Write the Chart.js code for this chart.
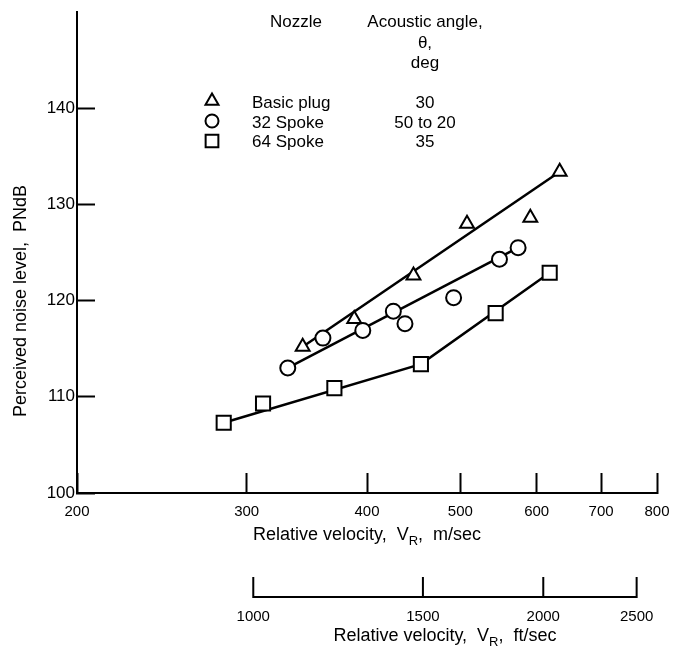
<!DOCTYPE html>
<html><head><meta charset="utf-8">
<script src="https://cdn.jsdelivr.net/npm/chart.js@4/dist/chart.umd.min.js"></script>
<style>html,body{margin:0;padding:0;background:#fff;}#wrap{width:673px;height:654px;}</style>
</head><body><div id="wrap"><canvas id="c" width="673" height="654"></canvas></div>
<script>
// ---- data ----
const basicPlugVelocity = [343, 388, 447, 508, 591, 634];
const basicPlugNoise    = [115.2, 118.1, 122.6, 128.0, 128.6, 133.4];
const basicPlugFitVelocity = [343, 634];
const basicPlugFitNoise    = [115.2, 133.4];

const spoke32Velocity = [331, 360, 396, 426, 438, 492, 549, 574];
const spoke32Noise    = [113.0, 116.1, 116.9, 118.9, 117.6, 120.3, 124.3, 125.5];
const spoke32FitVelocity = [331, 574];
const spoke32FitNoise    = [113.0, 125.5];

const spoke64Velocity = [284, 312, 370, 455, 544, 619];
const spoke64Noise    = [107.3, 109.3, 110.9, 113.4, 118.7, 122.9];
const spoke64FitVelocity = [284, 455, 619];
const spoke64FitNoise    = [107.3, 113.4, 122.9];

const velocityTicksMs = [200, 300, 400, 500, 600, 700, 800];
const velocityTicksFt = [1000, 1500, 2000, 2500];
const noiseTicks = [100, 110, 120, 130, 140];

const legendNozzles = ['Basic plug', '32 Spoke', '64 Spoke'];
const legendAngles  = ['30', '50 to 20', '35'];
const legendStyles  = ['triangle', 'circle', 'rect'];
const FT_TO_M = 0.3048;

const FONT = "'Liberation Sans', Arial, sans-serif";
const toPts = (xs, ys) => xs.map((v, i) => ({x: v, y: ys[i]}));

function markerSet(label, xs, ys, style, r) {
  return {label, data: toPts(xs, ys), showLine: false, pointStyle: style, pointRadius: r,
    pointBorderWidth: 2, pointBorderColor: '#000', pointBackgroundColor: '#fff', order: 0};
}
function fitSet(xs, ys) {
  return {data: toPts(xs, ys), showLine: true, pointRadius: 0, borderColor: '#000',
    borderWidth: 2.5, fill: false, tension: 0, order: 1};
}

function drawSymbol(ctx, style, x, y, r) {
  ctx.beginPath();
  if (style === 'triangle') {
    ctx.moveTo(x, y - r);
    ctx.lineTo(x + r * 0.866, y + r * 0.5);
    ctx.lineTo(x - r * 0.866, y + r * 0.5);
    ctx.closePath();
  } else if (style === 'circle') {
    ctx.arc(x, y, r, 0, Math.PI * 2);
  } else {
    const s = r * Math.SQRT1_2;
    ctx.rect(x - s, y - s, 2 * s, 2 * s);
  }
  ctx.fillStyle = '#fff'; ctx.fill();
  ctx.lineWidth = 2; ctx.strokeStyle = '#000'; ctx.stroke();
}

const decorPlugin = {
  id: 'decor',
  afterDraw(chart) {
    const ctx = chart.ctx;
    const xs = chart.scales.x;
    const area = chart.chartArea;
    ctx.save();
    ctx.fillStyle = '#000';
    ctx.strokeStyle = '#000';

    // legend table
    ctx.font = '17px ' + FONT;
    ctx.textBaseline = 'alphabetic';
    ctx.textAlign = 'left';
    ctx.fillText('Nozzle', 270, 27);
    ctx.textAlign = 'center';
    ctx.fillText('Acoustic angle,', 425, 27);
    ctx.fillText('\u03B8,', 425, 48);
    ctx.fillText('deg', 425, 68);
    const rowBase = [108, 128, 147];
    const symY = [101, 121, 141];
    legendNozzles.forEach((n, i) => {
      ctx.fillStyle = '#000';
      ctx.textAlign = 'left';
      ctx.fillText(n, 252, rowBase[i]);
      ctx.textAlign = 'center';
      ctx.fillText(legendAngles[i], 425, rowBase[i]);
      drawSymbol(ctx, legendStyles[i], 212, symY[i], legendStyles[i] === 'rect' ? 9 : (legendStyles[i] === 'circle' ? 6.5 : 7.5));
    });

    // x-axis title with subscript
    ctx.fillStyle = '#000';
    const cx = (area.left + area.right) / 2;
    const p1 = 'Relative velocity,  V', sub = 'R', p2 = ',  m/sec';
    ctx.font = '18px ' + FONT;
    const w1 = ctx.measureText(p1).width, w3 = ctx.measureText(p2).width;
    ctx.font = '13px ' + FONT;
    const w2 = ctx.measureText(sub).width;
    let x0 = cx - (w1 + w2 + w3) / 2;
    ctx.textAlign = 'left';
    ctx.font = '18px ' + FONT; ctx.fillText(p1, x0, 540);
    ctx.font = '13px ' + FONT; ctx.fillText(sub, x0 + w1, 545);
    ctx.font = '18px ' + FONT; ctx.fillText(p2, x0 + w1 + w2, 540);

    // y-axis title
    ctx.save();
    ctx.translate(25.5, 301);
    ctx.rotate(-Math.PI / 2);
    ctx.textAlign = 'center';
    ctx.font = '18px ' + FONT;
    ctx.fillText('Perceived noise level,  PNdB', 0, 0);
    ctx.restore();

    // secondary ft/sec axis, placed through the m/sec scale
    const axY = 597;
    const fpx = velocityTicksFt.map(f => xs.getPixelForValue(f * FT_TO_M));
    ctx.lineWidth = 2;
    ctx.beginPath();
    ctx.moveTo(fpx[0], axY); ctx.lineTo(fpx[fpx.length - 1], axY);
    fpx.forEach(p => { ctx.moveTo(p, axY + 1); ctx.lineTo(p, axY - 20); });
    ctx.stroke();
    ctx.font = '15px ' + FONT;
    ctx.textAlign = 'center';
    velocityTicksFt.forEach((f, i) => ctx.fillText(String(f), fpx[i], 621));
    const fc = (fpx[0] + fpx[fpx.length - 1]) / 2;
    const q1 = 'Relative velocity,  V', q3 = ',  ft/sec';
    ctx.font = '18px ' + FONT;
    const v1 = ctx.measureText(q1).width, v3 = ctx.measureText(q3).width;
    ctx.font = '13px ' + FONT;
    const v2 = ctx.measureText(sub).width;
    let y0 = fc - (v1 + v2 + v3) / 2;
    ctx.textAlign = 'left';
    ctx.font = '18px ' + FONT; ctx.fillText(q1, y0, 641);
    ctx.font = '13px ' + FONT; ctx.fillText(sub, y0 + v1, 646);
    ctx.font = '18px ' + FONT; ctx.fillText(q3, y0 + v1 + v2, 641);
    ctx.restore();
  }
};

new Chart(document.getElementById('c'), {
  type: 'scatter',
  data: {
    datasets: [
      markerSet('Basic plug', basicPlugVelocity, basicPlugNoise, 'triangle', 8),
      markerSet('32 Spoke', spoke32Velocity, spoke32Noise, 'circle', 7.5),
      markerSet('64 Spoke', spoke64Velocity, spoke64Noise, 'rect', 10),
      fitSet(basicPlugFitVelocity, basicPlugFitNoise),
      fitSet(spoke32FitVelocity, spoke32FitNoise),
      fitSet(spoke64FitVelocity, spoke64FitNoise)
    ]
  },
  options: {
    responsive: false,
    animation: false,
    devicePixelRatio: 1,
    layout: {padding: {top: 12, right: 16, left: 0, bottom: 0}},
    plugins: {legend: {display: false}, tooltip: {enabled: false}, title: {display: false}},
    scales: {
      x: {
        type: 'logarithmic', position: 'bottom', min: 200, max: 800,
        afterBuildTicks: s => { s.ticks = velocityTicksMs.map(v => ({value: v})); },
        afterFit: s => { s.height = 161; s.paddingLeft = 0; s.paddingRight = 0; },
        ticks: {autoSkip: false, maxRotation: 0, minRotation: 0, padding: 30, color: '#000',
          font: {family: FONT, size: 15}, callback: v => String(v)},
        grid: {drawOnChartArea: false, drawTicks: true, tickLength: -20, tickWidth: 2, color: '#000'},
        border: {display: true, color: '#000', width: 2}
      },
      y: {
        type: 'linear', position: 'left', min: 100, max: 150,
        afterBuildTicks: s => { s.ticks = noiseTicks.map(v => ({value: v})); },
        afterFit: s => { s.width = 77; s.paddingTop = 0; s.paddingBottom = 0; },
        ticks: {padding: 20, color: '#000', font: {family: FONT, size: 17}, callback: v => String(v)},
        grid: {drawOnChartArea: false, drawTicks: true, tickLength: -18, tickWidth: 2, color: '#000'},
        border: {display: true, color: '#000', width: 2}
      }
    }
  },
  plugins: [decorPlugin]
});
</script>
</body></html>
